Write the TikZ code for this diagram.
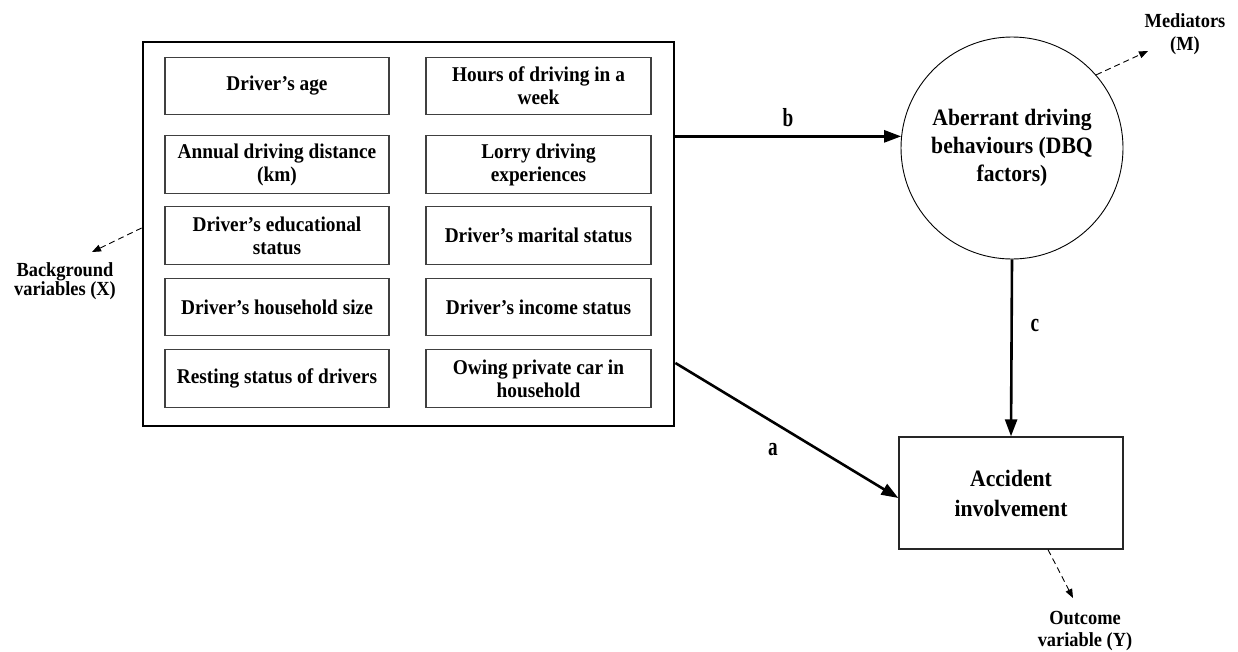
\documentclass[tikz,border=0pt]{standalone}
\usepackage{fontspec}
\setmainfont{Liberation Serif}[FakeStretch=0.92]
\newfontfamily\narrowfont{Liberation Serif}[FakeStretch=0.74]
\usetikzlibrary{arrows.meta}
\begin{document}
\begin{tikzpicture}[x=1pt,y=-1pt,
  varbox/.style={draw=black!75, line width=1.1pt, minimum width=224pt, minimum height=57.5pt,
    inner sep=0pt, align=center, font=\fontsize{21}{23}\selectfont\bfseries},
  outerbox/.style={draw, line width=2.8pt, minimum width=531pt, minimum height=384pt, inner sep=0pt},
  mediatorcirc/.style={circle, draw, line width=0.9pt, minimum size=222pt, inner sep=0pt, align=center,
    font=\fontsize{23.5}{28}\selectfont\bfseries},
  outcomebox/.style={draw=black!85, line width=1.3pt, minimum width=224pt, minimum height=112pt, inner sep=0pt,
    align=center, font=\fontsize{23.5}{30}\selectfont\bfseries},
  mainarrow/.style={line width=2.6pt, -{Triangle[length=17pt,width=12pt]}},
  dasharrow/.style={line width=0.9pt, dash pattern=on 6pt off 4pt, -{Triangle[length=9pt,width=7pt]}},
  pathlabel/.style={inner sep=0pt, font=\narrowfont\fontsize{26}{26}\selectfont\bfseries},
  sidelabel/.style={inner sep=0pt, align=center, font=\fontsize{20}{17}\selectfont\bfseries}
]
\useasboundingbox (0,0) rectangle (1238,651);

% outer container
\node[outerbox] (outer) at (408.5,234) {};

% left column
\node[varbox] (age)   at (277,86)    {Driver’s age};
\node[varbox] (dist)  at (277,164.5) {Annual driving distance\\(km)};
\node[varbox] (edu)   at (277,235.5) {Driver’s educational\\status};
\node[varbox] (house) at (277,307)   {Driver’s household size};
\node[varbox] (rest)  at (277,378.5) {Resting status of drivers};
% right column
\node[varbox, minimum width=225pt] (hours)   at (538.5,86)    {Hours of driving in a\\week};
\node[varbox, minimum width=225pt] (lorry)   at (538.5,164.5) {Lorry driving\\experiences};
\node[varbox, minimum width=225pt] (marital) at (538.5,235.5) {Driver’s marital status};
\node[varbox, minimum width=225pt] (income)  at (538.5,307)   {Driver’s income status};
\node[varbox, minimum width=225pt] (car)     at (538.5,378.5) {Owing private car in\\household};

% mediator and outcome
\node[mediatorcirc] (circ) at (1012,148) {Aberrant driving\\behaviours (DBQ\\factors)};
\node[outcomebox] (acc) at (1011,493) {Accident\\involvement};

% main arrows
\draw[mainarrow] (outer.east |- circ.174.8) -- (circ.174.8);
\draw[mainarrow] (circ.south) -- (acc.north);
\draw[mainarrow] ([yshift=-129pt]outer.east) -- ([yshift=-5pt]acc.west);

\node[pathlabel] (lb) at (788,118) {b};
\node[pathlabel] (lc) at (1035,325) {c};
\node[pathlabel] (la) at (773,450) {a};

% dashed side labels
\coordinate (bgtip) at (92,252);
\coordinate (medtip) at (1148,51);
\coordinate (outtip) at (1073,598);
\draw[dasharrow] ([yshift=6pt]outer.west) -- (bgtip);
\draw[dasharrow] (circ.41.3) -- (medtip);
\draw[dasharrow] ([xshift=37pt]acc.south) -- (outtip);

\node[sidelabel] (bglab) at (65,281) {Background\\variables (X)};
\node[sidelabel, font=\fontsize{20}{23}\selectfont\bfseries] (medlab) at (1185,34) {Mediators\\(M)};
\node[sidelabel, font=\fontsize{20}{22}\selectfont\bfseries] (outlab) at (1085,631) {Outcome\\variable (Y)};
\end{tikzpicture}
\end{document}
